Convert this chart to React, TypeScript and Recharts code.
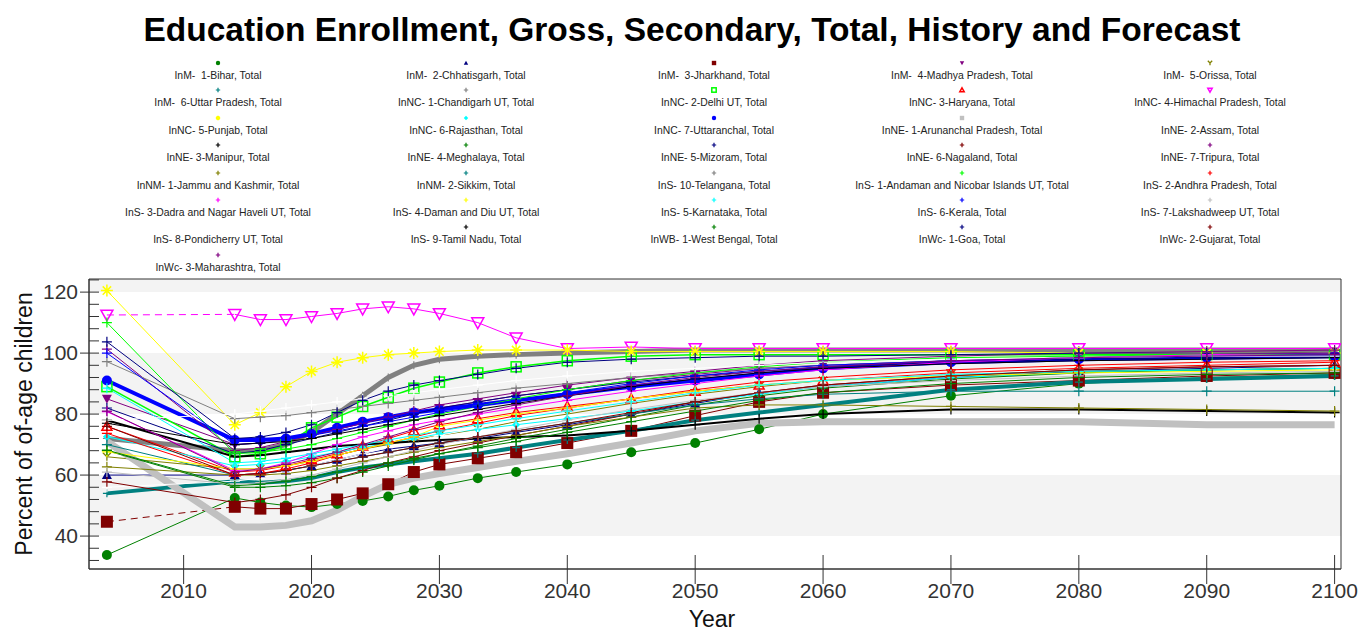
import React from 'react';
import { LineChart, Line, XAxis, YAxis, ReferenceArea } from 'recharts';

// years of the history point and of the forecast points
const YEARS = [2004, 2014, 2016, 2018, 2020, 2022, 2024, 2026, 2028, 2030, 2033, 2036, 2040, 2045, 2050, 2055, 2060, 2070, 2080, 2090, 2100];

const bihar = [33.8, 52.5, 51, 50, 49.5, 50.5, 51.5, 53, 55, 56.5, 59, 61, 63.5, 67.5, 70.5, 75, 80, 86, 90, 92, 93];
const chhatisgarh = [60, 60, 60.5, 61.5, 63, 65, 67, 68.5, 69.5, 70.5, 72, 74, 76.5, 80, 83.5, 87, 89, 92, 94, 95, 96];
const jharkhand = [44.7, 49.6, 49, 49, 50.5, 52, 54, 57, 61, 63.5, 65.5, 67.5, 70.5, 74.5, 79.5, 84, 87, 89.5, 91, 92.5, 93.5];
const madhyaPradesh = [85, 70, 70.5, 71.5, 73, 75, 77, 79, 80.5, 82, 84, 86, 88, 91, 93, 95, 96, 97.5, 98.5, 99.5, 100.5];
const orissa = [66, 62, 62, 63, 64.5, 66.5, 68.5, 70, 71.5, 73, 75, 77.5, 80, 83.5, 86.5, 89, 91, 93, 94, 94.5, 95];
const uttarPradesh = [54, 58, 57.5, 58, 59, 61, 62.5, 63.5, 64.5, 65.5, 67, 69, 71.5, 74.5, 78, 80.5, 83, 88, 90.5, 91.5, 92.5];
const chandigarh = [72, 68, 68, 70, 74, 80, 86, 92, 96, 98, 99, 99.5, 100, 100.5, 101, 101, 101, 101, 101, 101, 101];
const delhi = [89, 66, 67, 70, 75.5, 79, 82.5, 85.5, 88.5, 90.5, 93.5, 95.5, 97.5, 99, 99.5, 99.5, 99.5, 99.5, 99.5, 99.5, 99.5];
const haryana = [76, 61, 61.5, 63, 65, 67, 69.5, 72, 74.5, 76.5, 78.5, 80.5, 82.5, 85, 87.5, 89.5, 91, 93.5, 95, 96, 97];
const himachal = [112.5, 112.7, 111, 111, 112, 113, 114.5, 115.2, 114.5, 113, 110, 105, 101.5, 102, 101.5, 101.5, 101.5, 101.5, 101.5, 101.5, 101.5];
const punjab = [120.5, 76.5, 80.5, 89, 94, 97, 98.5, 99.5, 100, 100.5, 101, 101, 101, 100.5, 100.5, 100.5, 100.5, 100.5, 100, 100, 100];
const rajasthan = [72.6, 63, 63.5, 64.5, 66, 67.5, 69, 70.5, 72, 73.5, 75, 76.5, 78.5, 81, 84, 86.5, 89, 92, 93.5, 94.5, 95];
const uttaranchal = [91, 71.5, 71.5, 72, 73.5, 75.5, 77.5, 79, 80.5, 81.5, 83, 84.5, 86.5, 89, 91, 93, 95, 97, 98, 98.5, 99];
const arunachal = [71, 43, 43, 43.5, 45, 48.5, 53, 57, 59, 60.5, 62.5, 64.5, 67, 70.5, 74.5, 77, 77.5, 77.5, 77.5, 76.5, 76.5];
const assam = [56, 58, 59, 61, 63, 65, 67, 69, 71, 73, 75.5, 78, 81, 84, 87, 89.5, 91, 93, 94.5, 95.5, 96];
const manipur = [78, 66, 66.5, 67.5, 68.5, 69.5, 70, 70.5, 71, 71.5, 72, 72.5, 73, 74.5, 76.5, 78.5, 80, 81.5, 81.5, 81, 80.5];
const meghalaya = [68, 56, 56, 56.5, 57.5, 59, 61, 63, 65, 67, 69.5, 72, 75, 79, 83, 86, 88.5, 91.5, 93.5, 94.5, 95];
const mizoram = [82, 67, 68, 70, 72, 74, 76, 78, 80, 82, 84, 86, 88, 90.5, 92.5, 94, 95.5, 97, 98, 98.5, 99];
const nagaland = [57.8, 51, 52, 53.5, 56, 59, 61.5, 64, 66, 68, 70.5, 73, 76, 80, 84, 87, 89.5, 92.5, 94.5, 95.5, 96];
const tripura = [101.3, 68, 69, 71, 73, 75, 77, 79, 81, 83, 85, 87, 89.5, 92, 94, 96, 97.5, 99, 100, 100.5, 101];
const jammuKashmir = [62.7, 60, 60, 60.5, 61.5, 63, 64.5, 66, 67.5, 69, 71, 73, 76, 79, 82, 83, 83, 82.5, 82, 81.5, 81];
const sikkim = [70, 60, 60.5, 61.5, 63, 64.5, 66, 67.5, 69, 70.5, 72.5, 74.5, 77, 80, 83, 85, 86.5, 87.5, 87.5, 87.5, 87.5];
const telangana = [97.2, 78.5, 79, 79.5, 80.5, 81.5, 82.5, 83.5, 84.5, 85.5, 87, 88.5, 90, 92, 93.5, 95, 96, 97.5, 98.5, 99, 99.5];
const andaman = [110, 67, 67.5, 68.5, 70, 72, 74, 76, 78, 80, 82.5, 85, 88, 91, 93.5, 95.5, 97, 98.5, 99, 99.5, 99.5];
const andhra = [73.7, 60, 60.5, 62, 64, 66.5, 68.5, 70.5, 72.5, 74.5, 77, 79.5, 82, 85, 88, 90.5, 92, 94.5, 96, 97, 97.5];
const dadra = [80.8, 61.5, 62, 64, 67, 70, 72.5, 74.5, 76.5, 78, 80, 82, 84.5, 87.5, 90, 92.5, 94.5, 97, 98.5, 99.5, 100];
const daman = [67.6, 62, 62, 63, 64.5, 66.5, 68.5, 70.5, 72.5, 76, 78, 80, 82, 85, 87.5, 89.5, 91, 92.5, 93.5, 94, 94.5];
const karnataka = [88.5, 64, 64.5, 65.5, 67, 68.5, 70, 71.5, 73, 74.5, 76.5, 78.5, 81, 84, 87, 89.5, 91, 93, 94, 94.5, 95];
const kerala = [100, 70, 70.5, 71.5, 73, 74.5, 76, 77.5, 79, 80.5, 82.5, 84.5, 87, 90, 92.5, 94.5, 96, 97.5, 98.5, 99, 99.5];
const lakshadweep = [61, 57, 57.5, 58.5, 60, 62, 64, 66, 68, 70, 72.5, 75, 78, 81.5, 84.5, 87, 89, 91, 92.5, 93.5, 94];
const pondicherry = [78, 80, 81, 82, 83, 84, 85, 86, 87, 88, 89.5, 91, 92.5, 94, 95, 96, 97, 98, 98.5, 99, 99];
const tamilNadu = [77, 70, 70.5, 71, 72, 73.5, 75, 76.5, 78, 79.5, 81.5, 83.5, 86, 89, 91.5, 93.5, 95, 96.5, 97.5, 98, 98.5];
const westBengal = [68.2, 56.5, 57, 58, 59.5, 61, 62.5, 64, 65.5, 67, 69, 71, 74, 77.5, 81, 84.5, 87, 90, 92, 93, 93.5];
const goa = [103.7, 72, 72.5, 74, 76.5, 80.5, 84.5, 87.5, 89.5, 91, 93, 95, 97, 98, 98.5, 99, 99, 99.5, 100, 100, 100];
const gujarat = [76, 60, 60.5, 61.5, 63, 64.5, 66, 67.5, 69, 70.5, 72.5, 74.5, 77, 80.5, 84, 87, 89.5, 92.5, 94.5, 95.5, 96];
const maharashtra = [81, 61, 62, 63.5, 65.5, 67.5, 70, 72.5, 75, 77.5, 80.5, 83, 86, 89.5, 92, 94, 95.5, 97.5, 98.5, 99, 99.5];

const X_TICKS = [2010, 2020, 2030, 2040, 2050, 2060, 2070, 2080, 2090, 2100];
const Y_TICKS = [32, 36, 40, 44, 48, 52, 56, 60, 64, 68, 72, 76, 80, 84, 88, 92, 96, 100, 104, 108, 112, 116, 120, 124];
const X_DOMAIN: [number, number] = [2002.6, 2100.5];
const Y_DOMAIN: [number, number] = [29.2, 124.3];

const FONT = "Arial, 'Liberation Sans', sans-serif";

type Kind = 'circle' | 'triangle' | 'square' | 'down' | 'asterisk' | 'plus' | 'openSquare' | 'openTriangle' | 'openDown' | 'star' | 'diamond' | 'none';

interface Series {
    name: string;
    values: number[];
    color: string;
    kind: Kind;
    size: number;
    width: number;
    dashedHistory?: boolean;
}

const SERIES: Series[] = [
    { name: 'InM-  1-Bihar, Total', values: bihar, color: '#008000', kind: 'circle', size: 5, width: 1 },
    { name: 'InM-  2-Chhatisgarh, Total', values: chhatisgarh, color: '#000080', kind: 'triangle', size: 5, width: 1 },
    { name: 'InM-  3-Jharkhand, Total', values: jharkhand, color: '#800000', kind: 'square', size: 6, width: 1, dashedHistory: true },
    { name: 'InM-  4-Madhya Pradesh, Total', values: madhyaPradesh, color: '#800080', kind: 'down', size: 5, width: 1 },
    { name: 'InM-  5-Orissa, Total', values: orissa, color: '#808000', kind: 'asterisk', size: 4, width: 1 },
    { name: 'InM-  6-Uttar Pradesh, Total', values: uttarPradesh, color: '#008080', kind: 'plus', size: 4, width: 4 },
    { name: 'InNC- 1-Chandigarh UT, Total', values: chandigarh, color: '#808080', kind: 'plus', size: 4, width: 5 },
    { name: 'InNC- 2-Delhi UT, Total', values: delhi, color: '#00ff00', kind: 'openSquare', size: 5, width: 1.5 },
    { name: 'InNC- 3-Haryana, Total', values: haryana, color: '#ff0000', kind: 'openTriangle', size: 5, width: 1 },
    { name: 'InNC- 4-Himachal Pradesh, Total', values: himachal, color: '#ff00ff', kind: 'openDown', size: 6, width: 1, dashedHistory: true },
    { name: 'InNC- 5-Punjab, Total', values: punjab, color: '#ffff00', kind: 'star', size: 6, width: 1 },
    { name: 'InNC- 6-Rajasthan, Total', values: rajasthan, color: '#00ffff', kind: 'diamond', size: 4, width: 1 },
    { name: 'InNC- 7-Uttaranchal, Total', values: uttaranchal, color: '#0000ff', kind: 'circle', size: 5, width: 4 },
    { name: 'InNE- 1-Arunanchal Pradesh, Total', values: arunachal, color: '#c0c0c0', kind: 'none', size: 4, width: 7 },
    { name: 'InNE- 2-Assam, Total', values: assam, color: '#ffffff', kind: 'plus', size: 5, width: 1 },
    { name: 'InNE- 3-Manipur, Total', values: manipur, color: '#000000', kind: 'plus', size: 5, width: 2 },
    { name: 'InNE- 4-Meghalaya, Total', values: meghalaya, color: '#008000', kind: 'plus', size: 5, width: 1 },
    { name: 'InNE- 5-Mizoram, Total', values: mizoram, color: '#000080', kind: 'plus', size: 5, width: 1 },
    { name: 'InNE- 6-Nagaland, Total', values: nagaland, color: '#800000', kind: 'plus', size: 5, width: 1 },
    { name: 'InNE- 7-Tripura, Total', values: tripura, color: '#800080', kind: 'plus', size: 5, width: 1 },
    { name: 'InNM- 1-Jammu and Kashmir, Total', values: jammuKashmir, color: '#808000', kind: 'plus', size: 5, width: 1 },
    { name: 'InNM- 2-Sikkim, Total', values: sikkim, color: '#008080', kind: 'plus', size: 5, width: 1 },
    { name: 'InS- 10-Telangana, Total', values: telangana, color: '#808080', kind: 'plus', size: 5, width: 1 },
    { name: 'InS- 1-Andaman and Nicobar Islands UT, Total', values: andaman, color: '#00ff00', kind: 'plus', size: 5, width: 1 },
    { name: 'InS- 2-Andhra Pradesh, Total', values: andhra, color: '#ff0000', kind: 'plus', size: 5, width: 1 },
    { name: 'InS- 3-Dadra and Nagar Haveli UT, Total', values: dadra, color: '#ff00ff', kind: 'plus', size: 5, width: 1 },
    { name: 'InS- 4-Daman and Diu UT, Total', values: daman, color: '#ffff00', kind: 'plus', size: 5, width: 1 },
    { name: 'InS- 5-Karnataka, Total', values: karnataka, color: '#00ffff', kind: 'plus', size: 5, width: 1 },
    { name: 'InS- 6-Kerala, Total', values: kerala, color: '#0000ff', kind: 'plus', size: 5, width: 1 },
    { name: 'InS- 7-Lakshadweep UT, Total', values: lakshadweep, color: '#c0c0c0', kind: 'plus', size: 5, width: 1 },
    { name: 'InS- 8-Pondicherry UT, Total', values: pondicherry, color: '#ffffff', kind: 'plus', size: 5, width: 1 },
    { name: 'InS- 9-Tamil Nadu, Total', values: tamilNadu, color: '#000000', kind: 'plus', size: 5, width: 1 },
    { name: 'InWB- 1-West Bengal, Total', values: westBengal, color: '#008000', kind: 'plus', size: 5, width: 1 },
    { name: 'InWc- 1-Goa, Total', values: goa, color: '#000080', kind: 'plus', size: 5, width: 1 },
    { name: 'InWc- 2-Gujarat, Total', values: gujarat, color: '#800000', kind: 'plus', size: 5, width: 1 },
    { name: 'InWc- 3-Maharashtra, Total', values: maharashtra, color: '#800080', kind: 'plus', size: 5, width: 1 },
];

const rows = YEARS.map((year, i) => {
    const row: Record<string, number> = { year };
    SERIES.forEach((s, k) => {
        row[`s${k}`] = s.values[i];
    });
    return row;
});

const Marker = ({ x, y, kind, color, size }: { x: number; y: number; kind: Kind; color: string; size: number }) => {
    const s = size;
    switch (kind) {
        case 'circle':
            return <circle cx={x} cy={y} r={s} fill={color} />;
        case 'triangle':
            return <polygon points={`${x},${y - s} ${x + s},${y + s * 0.8} ${x - s},${y + s * 0.8}`} fill={color} />;
        case 'down':
            return <polygon points={`${x},${y + s} ${x + s},${y - s * 0.8} ${x - s},${y - s * 0.8}`} fill={color} />;
        case 'square':
            return <rect x={x - s} y={y - s} width={s * 2} height={s * 2} fill={color} />;
        case 'openSquare':
            return <rect x={x - s} y={y - s} width={s * 2} height={s * 2} fill="none" stroke={color} strokeWidth={1.5} />;
        case 'openTriangle':
            return <polygon points={`${x},${y - s} ${x + s},${y + s * 0.8} ${x - s},${y + s * 0.8}`} fill="none" stroke={color} strokeWidth={1.5} />;
        case 'openDown':
            return <polygon points={`${x},${y + s} ${x + s},${y - s * 0.8} ${x - s},${y - s * 0.8}`} fill="none" stroke={color} strokeWidth={1.5} />;
        case 'diamond':
            return <polygon points={`${x},${y - s} ${x + s},${y} ${x},${y + s} ${x - s},${y}`} fill={color} />;
        case 'plus':
            return <path d={`M${x - s},${y}H${x + s}M${x},${y - s}V${y + s}`} stroke={color} strokeWidth={1.2} />;
        case 'star':
            return (
                <path
                    d={`M${x - s},${y}H${x + s}M${x},${y - s}V${y + s}M${x - s * 0.7},${y - s * 0.7}L${x + s * 0.7},${y + s * 0.7}M${x - s * 0.7},${y + s * 0.7}L${x + s * 0.7},${y - s * 0.7}`}
                    stroke={color}
                    strokeWidth={1.5}
                />
            );
        case 'asterisk':
            return <path d={`M${x},${y}V${y + s}M${x},${y}L${x - s},${y - s}M${x},${y}L${x + s},${y - s}`} stroke={color} strokeWidth={1.3} />;
        default:
            return null;
    }
};

const makeDot = (s: Series, onlyFirst = false) => (props: any) => {
    const { cx, cy, index } = props;
    if (cx == null || cy == null || (onlyFirst && index !== 0)) return <g key={`d-${index}`} />;
    return (
        <g key={`d-${index}`}>
            <Marker x={cx} y={cy} kind={s.kind} color={s.color} size={s.size} />
        </g>
    );
};

const XTick = (props: any) => {
    const { x, y, payload } = props;
    return (
        <g>
            <line x1={x} x2={x} y1={y - 14} y2={y + 15} stroke="#333" />
            <text x={x} y={y + 29} textAnchor="middle" fontSize={21} fill="#333" fontFamily={FONT}>
                {payload.value}
            </text>
        </g>
    );
};

const YTick = (props: any) => {
    const { x, y, payload } = props;
    const major = payload.value % 20 === 0;
    return (
        <g>
            <line x1={major ? x - 9 : x} x2={x + 10} y1={y} y2={y} stroke="#333" />
            {major && (
                <text x={x - 11} y={y + 7} textAnchor="end" fontSize={21} fill="#333" fontFamily={FONT}>
                    {payload.value}
                </text>
            )}
        </g>
    );
};

const LegendItem = ({ s, i }: { s: Series; i: number }) => {
    const col = i % 5;
    const row = Math.floor(i / 5);
    const cx = 218 + col * 248;
    const cy = 76 + row * 27.4;
    return (
        <>
            <svg style={{ position: 'absolute', left: cx - 5, top: cy - 18, overflow: 'visible' }} width={10} height={10}>
                <Marker x={5} y={5} kind={s.kind === 'none' ? 'square' : s.kind} color={s.color} size={2.2} />
            </svg>
            <div
                style={{
                    position: 'absolute',
                    left: cx - 150,
                    width: 300,
                    top: cy - 7,
                    textAlign: 'center',
                    fontSize: 10.4,
                    lineHeight: '14px',
                    color: '#222',
                    whiteSpace: 'pre',
                    fontFamily: FONT,
                }}
            >
                {s.name}
            </div>
        </>
    );
};

const App: React.FC = () => {
    return (
        <div style={{ position: 'relative', width: 1362, height: 632, background: '#fff', overflow: 'hidden' }}>
            <style>{'body{margin:0}'}</style>
            <LineChart width={1362} height={632} data={rows} margin={{ top: 279, right: 21, bottom: 13, left: 29 }}>
                <ReferenceArea x1={X_DOMAIN[0]} x2={X_DOMAIN[1]} y1={40} y2={60} fill="#f3f3f3" fillOpacity={1} stroke="none" />
                <ReferenceArea x1={X_DOMAIN[0]} x2={X_DOMAIN[1]} y1={80} y2={100} fill="#f3f3f3" fillOpacity={1} stroke="none" />
                <ReferenceArea x1={X_DOMAIN[0]} x2={X_DOMAIN[1]} y1={120} y2={Y_DOMAIN[1]} fill="#f3f3f3" fillOpacity={1} stroke="none" />
                <XAxis
                    dataKey="year"
                    type="number"
                    domain={X_DOMAIN}
                    allowDataOverflow
                    ticks={X_TICKS}
                    interval={0}
                    height={50}
                    tickSize={0}
                    tickMargin={0}
                    tickLine={false}
                    tick={<XTick />}
                    axisLine={{ stroke: '#333' }}
                />
                <YAxis
                    type="number"
                    domain={Y_DOMAIN}
                    allowDataOverflow
                    ticks={Y_TICKS}
                    interval={0}
                    width={60}
                    tickSize={0}
                    tickMargin={0}
                    tickLine={false}
                    tick={<YTick />}
                    axisLine={{ stroke: '#333' }}
                />
                {SERIES.map((s, k) =>
                    s.dashedHistory ? (
                        <Line
                            key={`h${k}`}
                            data={rows.slice(0, 2)}
                            dataKey={`s${k}`}
                            stroke={s.color}
                            strokeWidth={s.width}
                            strokeDasharray="7 5"
                            dot={makeDot(s, true)}
                            activeDot={false}
                            isAnimationActive={false}
                        />
                    ) : null
                )}
                {SERIES.map((s, k) => (
                    <Line
                        key={`l${k}`}
                        data={s.dashedHistory ? rows.slice(1) : rows}
                        dataKey={`s${k}`}
                        stroke={s.color}
                        strokeWidth={s.width}
                        dot={makeDot(s)}
                        activeDot={false}
                        isAnimationActive={false}
                    />
                ))}
                <ReferenceArea x1={X_DOMAIN[0]} x2={X_DOMAIN[1]} y1={Y_DOMAIN[0]} y2={Y_DOMAIN[1]} fill="none" stroke="#333" strokeWidth={1} />
            </LineChart>

            <div
                style={{
                    position: 'absolute',
                    left: 0,
                    width: 1384,
                    top: 11,
                    textAlign: 'center',
                    fontSize: 33.5,
                    fontWeight: 'bold',
                    fontFamily: FONT,
                    color: '#000',
                    lineHeight: '38px',
                }}
            >
                Education Enrollment, Gross, Secondary, Total, History and Forecast
            </div>
            {SERIES.map((s, i) => (
                <LegendItem key={i} s={s} i={i} />
            ))}
            <div
                style={{
                    position: 'absolute',
                    left: 24,
                    top: 424,
                    transform: 'translate(-50%, -50%) rotate(-90deg)',
                    whiteSpace: 'nowrap',
                    fontSize: 23,
                    fontFamily: FONT,
                    color: '#111',
                }}
            >
                Percent of of-age children
            </div>
            <div
                style={{
                    position: 'absolute',
                    left: 712,
                    top: 619,
                    transform: 'translate(-50%, -50%)',
                    whiteSpace: 'nowrap',
                    fontSize: 23,
                    lineHeight: '24px',
                    fontFamily: FONT,
                    color: '#111',
                }}
            >
                Year
            </div>
        </div>
    );
};

export default App;
